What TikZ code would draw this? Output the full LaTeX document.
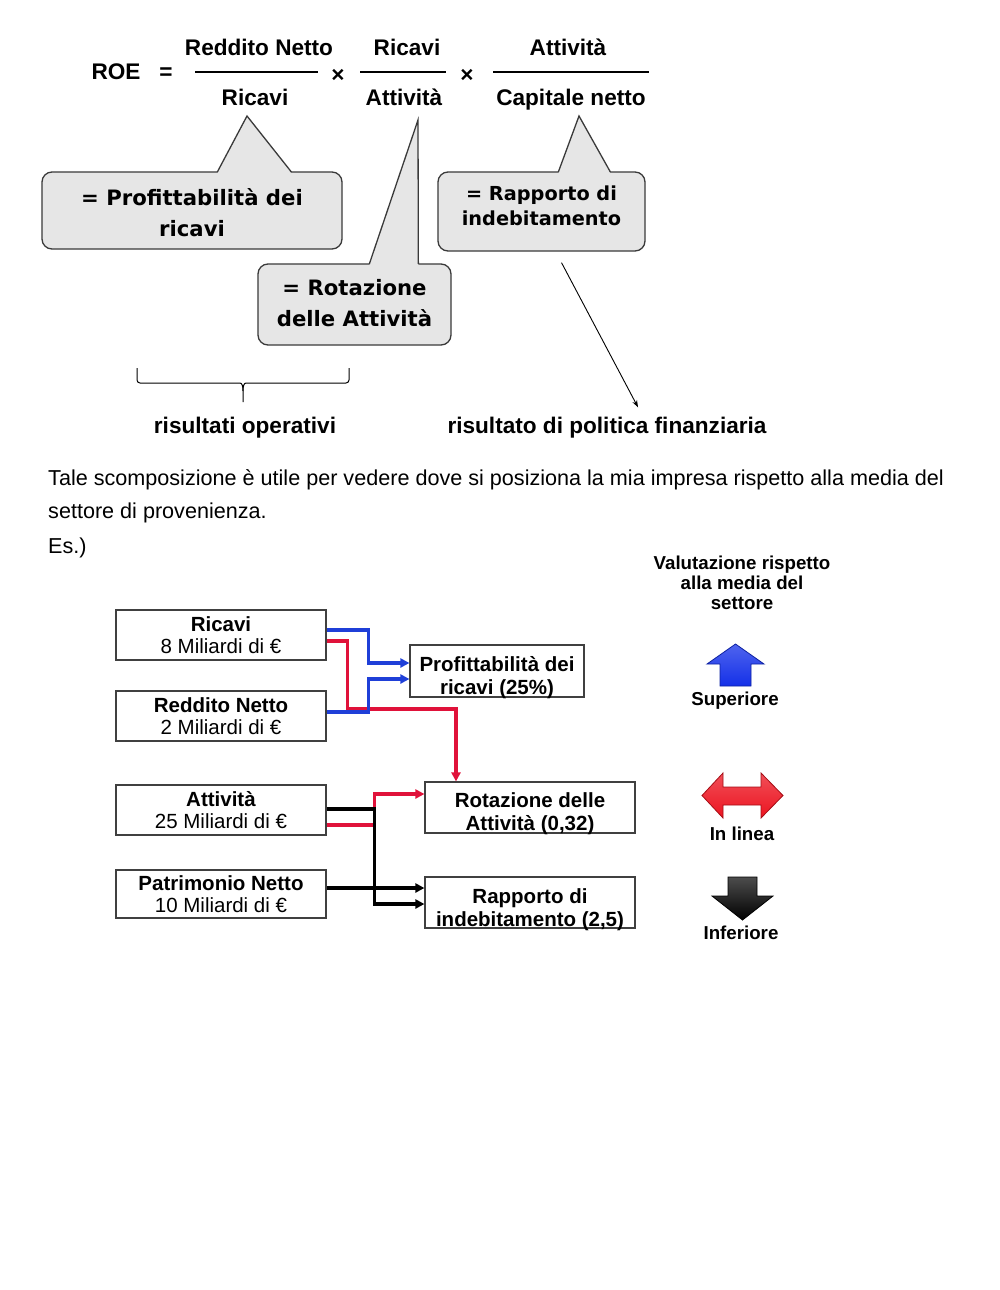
\documentclass[tikz,border=0pt]{standalone}
\usepackage{fontspec}
\setmainfont{Liberation Sans}
\newfontfamily\dejavu{DejaVu Sans}
\usetikzlibrary{arrows.meta,calc}
\newcommand{\myfs}[2]{\fontsize{#1}{#2}\selectfont}
\definecolor{callfill}{HTML}{E6E6E6}
\definecolor{callline}{HTML}{3A3A3A}
\definecolor{lineblue}{HTML}{1F3FD8}
\definecolor{linered}{HTML}{E0123A}
\definecolor{bigblue}{HTML}{1430E8}
\definecolor{bigred}{HTML}{EC1420}
\begin{document}
\begin{tikzpicture}[x=1pt,y=-1pt,
  formula/.style={font=\bfseries\myfs{22.6}{26}, inner sep=0, anchor=base},
  callout/.style={draw=callline, fill=callfill, rounded corners=10, line width=1.3, inner sep=0},
  calltext/.style={font=\dejavu\bfseries\myfs{21.2}{31}, align=center, inner sep=0},
  vbox/.style={draw=black!75, line width=1.2, minimum width=210, minimum height=50, inner sep=0, align=center, font=\myfs{20.5}{21.5}},
  obox/.style={draw=black!75, line width=1.2, inner sep=0},
  otext/.style={font=\bfseries\myfs{20.5}{23}, align=center, inner sep=0},
  conn/.style={line width=3.2, -{Triangle[length=9,width=9]}},
  bigarrow/.style={line width=0.8, line join=miter},
  side/.style={font=\bfseries\myfs{18.7}{20}, align=center, inner sep=0},
  para/.style={font=\myfs{21.6}{26}, anchor=base west, inner sep=0}
]
\useasboundingbox[fill=white] (0,0) rectangle (1000,1290);

% ---------- formula ----------
\node[formula] (roe) at (116,80) {ROE};
\node[formula] (eq) at (166,80) {=};
\node[formula] (n1) at (259,56) {Reddito Netto};
\node[formula] (d1) at (255,105) {Ricavi};
\node[formula] (x1) at (338,82) {×};
\node[formula] (n2) at (407,56) {Ricavi};
\node[formula] (d2) at (404,105) {Attività};
\node[formula] (x2) at (467,82) {×};
\node[formula] (n3) at (568,56) {Attività};
\node[formula] (d3) at (571,105) {Capitale netto};
\draw[line width=2.5] (195,72) -- (318,72);
\draw[line width=2.5] (360,72) -- (446,72);
\draw[line width=2.5] (493,72) -- (649,72);

% ---------- callouts ----------
\coordinate (t1) at (247,116);
\coordinate (t2) at (418,120);
\coordinate (t3) at (579,116);
\node[callout, minimum width=300, minimum height=77] (c1) at (192,210.5) {};
\node[callout, minimum width=193, minimum height=81] (c2) at (354.5,304.5) {};
\node[callout, minimum width=207, minimum height=79] (c3) at (541.5,211.5) {};
\foreach \c/\t/\a/\b in {c1/t1/176/250, c2/t2/112/161, c3/t3/121/173}{
  \fill[callfill] ($(\c.north west)+(\a,2)$) -- (\t) -- ($(\c.north west)+(\b,2)$) -- cycle;
  \draw[callline, line width=1.3, line join=miter] ($(\c.north west)+(\a,0.6)$) -- (\t) -- ($(\c.north west)+(\b,0.6)$);
}
\node[calltext] (c1t) at (192,212.5) {= Profittabilità dei\\ricavi};
\node[calltext] (c2t) at (354.5,303) {= Rotazione\\delle Attività};
\node[calltext, font=\dejavu\bfseries\myfs{19.3}{25}] (c3t) at (541.5,205.5) {= Rapporto di\\indebitamento};

% ---------- bracket and results ----------
\draw[line width=1] (137,368) [rounded corners=3] -- (137,383) -- (237,383) [sharp corners] .. controls (242,383) and (243,386) .. (243,391) -- (243,402);
\draw[line width=1] (349,368) [rounded corners=3] -- (349,383) -- (249,383) [sharp corners] .. controls (244,383) and (243,386) .. (243,391);
\node[formula, anchor=center] (ops) at (245,428) {risultati operativi};
\node[formula, anchor=center] (fin) at (607,428) {risultato di politica finanziaria};
\draw[line width=0.9, -{Stealth[length=7,width=5]}] ($(c3.south)+(20,11)$) -- ($(fin.north)+(31,-10)$);

% ---------- paragraph ----------
\node[para] (p1) at (48,485) {Tale scomposizione è utile per vedere dove si posiziona la mia impresa rispetto alla media del};
\node[para] (p2) at (48,518) {settore di provenienza.};
\node[para] (p3) at (48,553) {Es.)};

% ---------- boxes ----------
\node[vbox] (ric) at (221,635) {\textbf{Ricavi}\\8 Miliardi di €};
\node[vbox] (red) at (221,716) {\textbf{Reddito Netto}\\2 Miliardi di €};
\node[vbox] (att) at (221,810) {\textbf{Attività}\\25 Miliardi di €};
\node[vbox, minimum height=48] (pat) at (221,894) {\textbf{Patrimonio Netto}\\10 Miliardi di €};

\node[obox, minimum width=174, minimum height=52] (prof) at (497,671) {};
\node[obox, minimum width=210, minimum height=51] (rot) at (530,807.5) {};
\node[obox, minimum width=210, minimum height=51] (rap) at (530,902.5) {};
\node[otext] (proft) at (497,677.5) {Profittabilità dei\\ricavi (25\%)};
\node[otext] (rott) at (530,814) {Rotazione delle\\Attività (0,32)};
\node[otext] (rapt) at (530,909.5) {Rapporto di\\indebitamento (2,5)};

% ---------- connectors ----------
\draw[conn, linered] ($(ric.east)+(0,6)$) -| ($(ric.east)+(21,74)$) -| ($(rot.north)+(-74,0)$);
\draw[conn, lineblue] ($(ric.east)+(0,-5)$) -- ++(42,0) |- ($(prof.west)+(0,-8)$);
\draw[conn, lineblue] ($(red.east)+(0,-4)$) -- ++(42,0) |- ($(prof.west)+(0,8)$);
\draw[conn, linered] ($(att.east)+(0,15)$) -- ++(48,0) |- ($(rot.west)+(0,-13.5)$);
\draw[conn, black] ($(att.east)+(0,-1)$) -- ++(48,0) |- ($(rap.west)+(0,1.5)$);
\draw[conn, black] ($(pat.east)+(0,-6)$) -- ($(rap.west)+(0,-14.5)$);

% ---------- evaluation column ----------
\node[side] (val) at (742,583) {Valutazione rispetto\\alla media del\\settore};
\draw[bigarrow, draw=bigblue!70!black, top color=bigblue!75!white, bottom color=bigblue] (735.5,644) -- (764,664) -- (751,664) -- (751,686) -- (720,686) -- (720,664) -- (707,664) -- cycle;
\node[side] (sup) at (735,701) {Superiore};
\draw[bigarrow, draw=bigred!70!black, top color=bigred!75!white, bottom color=bigred] (702,795.5) -- (723,773) -- (723,787) -- (761,787) -- (761,773) -- (783,795.5) -- (761,818) -- (761,805) -- (723,805) -- (723,818) -- cycle;
\node[side] (lin) at (742,834) {In linea};
\draw[bigarrow, draw=black, top color=black!70, bottom color=black] (728,877) -- (757,877) -- (757,896) -- (773,896) -- (742.5,920) -- (712,896) -- (728,896) -- cycle;
\node[side] (inf) at (741,933) {Inferiore};
\end{tikzpicture}
\end{document}
